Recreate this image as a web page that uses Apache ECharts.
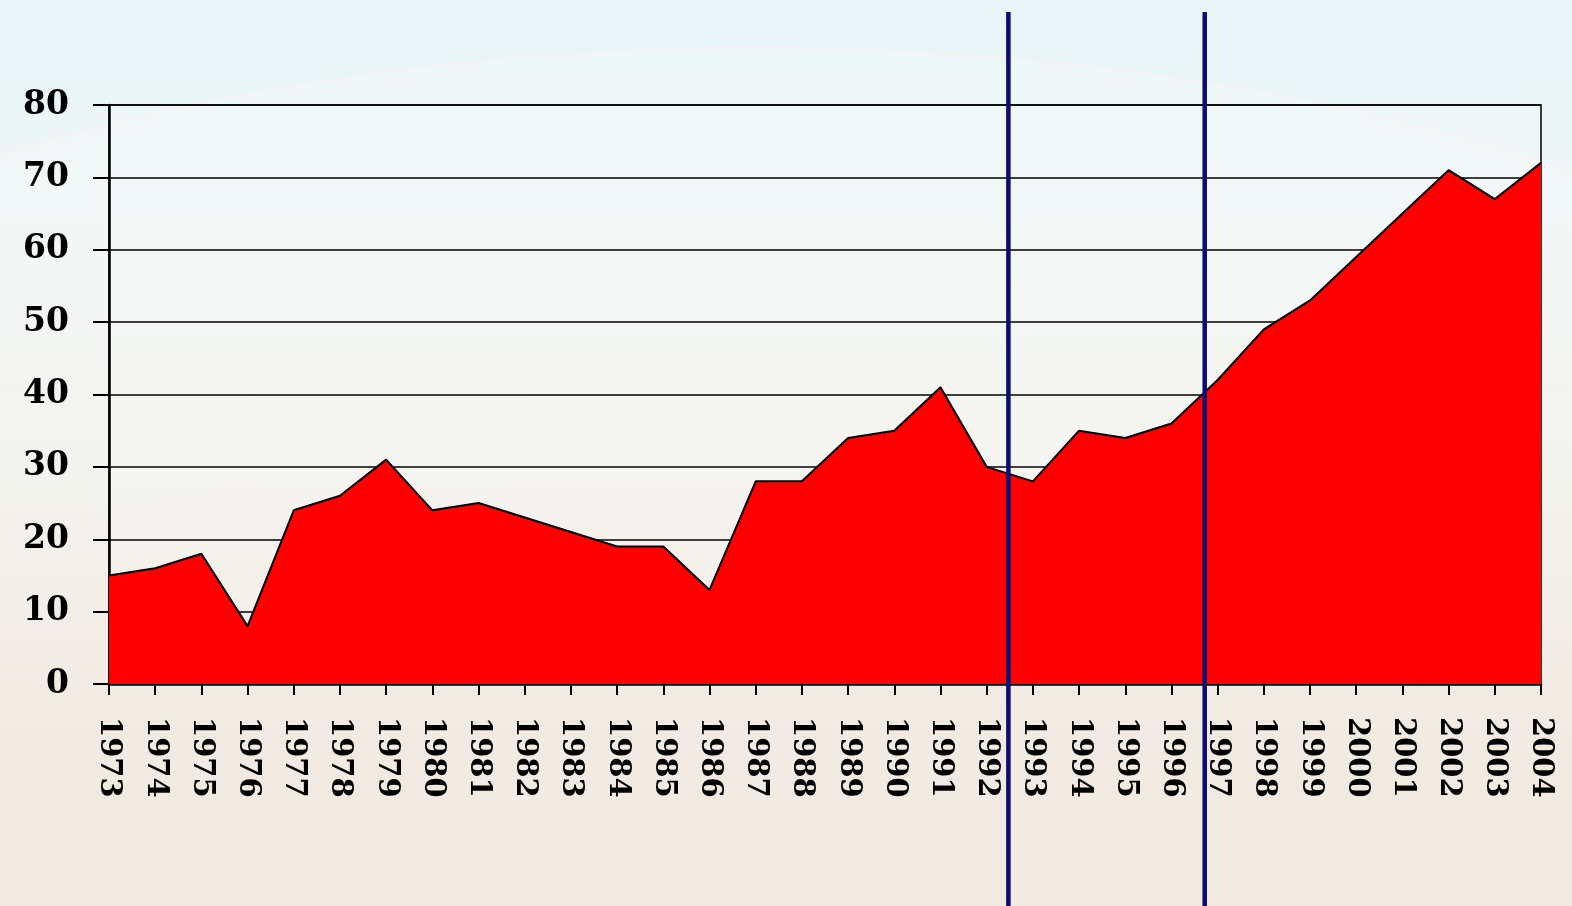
<!DOCTYPE html>
<html>
<head>
<meta charset="utf-8">
<script src="https://cdn.jsdelivr.net/npm/echarts@6/dist/echarts.min.js"></script>
<style>
html,body{margin:0;padding:0;width:1572px;height:906px;overflow:hidden;}
body{
  background:
    radial-gradient(ellipse 1383px 655px at 760px 700px, rgba(255,255,255,0.22) 0%, rgba(255,255,255,0.18) 99.1%, rgba(255,242,240,0.45) 99.6%, rgba(255,255,255,0) 100%),
    linear-gradient(180deg, #e8f5f9 0%, #eef6f6 20%, #f1f1eb 50%, #eee6dc 78%, #ede4d8 100%);
}
#c{width:1572px;height:906px;}
</style>
</head>
<body>
<div id="c"></div>
<script>
var years = ['1973','1974','1975','1976','1977','1978','1979','1980','1981','1982','1983','1984','1985','1986','1987','1988','1989','1990','1991','1992','1993','1994','1995','1996','1997','1998','1999','2000','2001','2002','2003','2004'];
var values = [15,16,18,8,24,26,31,24,25,23,21,19,19,13,28,28,34,35,41,30,28,35,34,36,42,49,53,59,65,71,67,72];
var yTicks = [0,10,20,30,40,50,60,70,80];
// divider positions in category-index units (between 1992|1993 and 1996|1997)
var dividers = [19.47, 23.72];

var chart = echarts.init(document.getElementById('c'));
var serif = '"DejaVu Serif",serif';
chart.setOption({
  animation:false,
  grid:{left:109,right:31,top:105,bottom:222,show:true,borderColor:'#000',borderWidth:1.5,backgroundColor:'rgba(255,255,255,0.12)'},
  xAxis:[{
    type:'category',data:years,boundaryGap:false,
    axisLine:{lineStyle:{color:'#000',width:2.5}},
    axisTick:{show:true,length:11,lineStyle:{color:'#000',width:2}},
    axisLabel:{rotate:-90,margin:33,color:'#000',fontFamily:serif,fontWeight:'bold',fontSize:29,interval:0}
  },{
    type:'value',min:0,max:years.length-1,show:false
  }],
  yAxis:{
    type:'value',min:yTicks[0],max:yTicks[yTicks.length-1],interval:10,
    axisLine:{show:true,lineStyle:{color:'#000',width:2.5}},
    axisTick:{show:true,length:16,lineStyle:{color:'#000',width:2}},
    splitLine:{show:true,lineStyle:{color:'#000',width:1.5}},
    axisLabel:{margin:40,color:'#000',fontFamily:serif,fontWeight:'bold',fontSize:33}
  },
  series:[{
    type:'line',data:values,symbol:'none',
    lineStyle:{color:'#000',width:2},
    areaStyle:{color:'#ff0000',opacity:1}
  }]
});

var g = dividers.map(function(d){
  var x = chart.convertToPixel({xAxisIndex:1}, d);
  return {type:'line',shape:{x1:x,y1:12,x2:x,y2:906},style:{stroke:'#0b0b72',lineWidth:4.5},z:100};
});
chart.setOption({graphic:g});
</script>
</body>
</html>
